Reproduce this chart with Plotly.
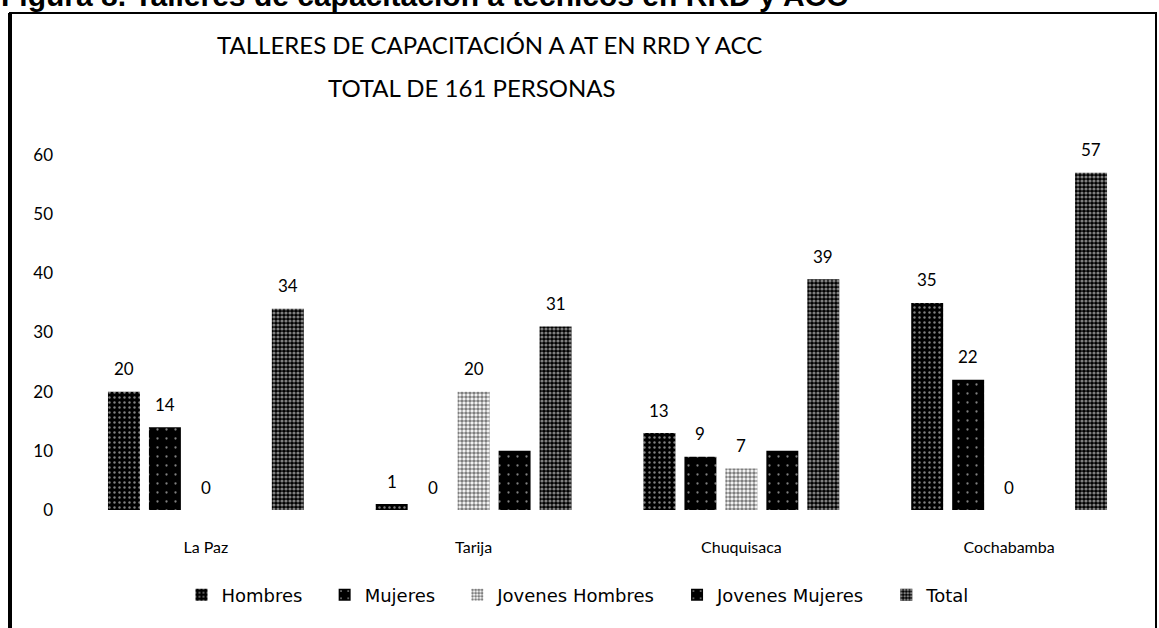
import plotly.graph_objects as go

# ---- data ----
categories = ["La Paz", "Tarija", "Chuquisaca", "Cochabamba"]
series_names = ["Hombres", "Mujeres", "Jovenes Hombres", "Jovenes Mujeres", "Total"]
hombres = [20, 1, 13, 35]
mujeres = [14, 0, 9, 22]
jovenes_hombres = [0, 20, 7, 0]
jovenes_mujeres = [None, 10, 10, None]
total = [34, 31, 39, 57]
series_values = [hombres, mujeres, jovenes_hombres, jovenes_mujeres, total]
show_labels = [True, True, True, False, True]
y_ticks = [0, 10, 20, 30, 40, 50, 60]
title_line1 = "TALLERES DE CAPACITACIÓN A AT EN RRD Y ACC"
title_line2 = "TOTAL DE 161 PERSONAS"
caption = "Figura 8. Talleres de capacitación a técnicos en RRD y ACC"

# ---- styles ----
W, H = 1159, 628
PLOT_L, PLOT_R, PLOT_T, PLOT_B = 72, 1143, 155, 510
ML, MR = PLOT_L, W - PLOT_R
MT, MB = PLOT_T, H - PLOT_B
PW = PLOT_R - PLOT_L
PH = PLOT_B - PLOT_T
BARGAP = 0.235
BARGROUPGAP = 0.22
FONT = "Lato, 'Liberation Sans', Arial, sans-serif"
TITLE_FONT = "Lato, sans-serif"
LEGEND_FONT = "'DejaVu Sans', Verdana, sans-serif"
LEGEND_PAD = "\u00a0" * 3

patterns = [
    dict(shape=".", bgcolor="#000000", fgcolor="#ffffff", size=5, solidity=0.18),
    dict(shape=".", bgcolor="#000000", fgcolor="#ffffff", size=9, solidity=0.05),
    dict(shape=".", bgcolor="#ffffff", fgcolor="#000000", size=4, solidity=0.62),
    dict(shape=".", bgcolor="#000000", fgcolor="#ffffff", size=9, solidity=0.05),
    dict(shape=".", bgcolor="#000000", fgcolor="#ffffff", size=4, solidity=0.5),
]

fig = go.Figure()
for k, (name, vals, pat) in enumerate(zip(series_names, series_values, patterns)):
    fig.add_trace(go.Bar(
        x=categories, y=vals,
        name=name + (LEGEND_PAD if k < len(series_names) - 1 else ""),
        marker=dict(color=pat["bgcolor"], line=dict(width=0), pattern=pat),
    ))

# data labels as annotations above each bar
n = len(series_names)
slot = PW / len(categories) * (1 - BARGAP) / n
annotations = []
for i, (vals, show) in enumerate(zip(series_values, show_labels)):
    if not show:
        continue
    for cat, v in zip(categories, vals):
        if v is None:
            continue
        annotations.append(dict(
            x=cat, y=v, xref="x", yref="y", text=str(v), showarrow=False,
            xshift=(i - (n - 1) / 2) * slot, yshift=23, yanchor="middle",
            font=dict(family=FONT, size=17, color="#000"),
        ))

def py(pixel_y):
    return (PLOT_B - pixel_y) / PH

def px(pixel_x):
    return (pixel_x - PLOT_L) / PW

annotations += [
    dict(text=title_line1, x=px(489), y=py(45), xref="paper", yref="paper",
         showarrow=False, xanchor="center", yanchor="middle",
         font=dict(family=TITLE_FONT, size=24, color="#000")),
    dict(text=title_line2, x=px(472), y=py(87), xref="paper", yref="paper",
         showarrow=False, xanchor="center", yanchor="middle",
         font=dict(family=TITLE_FONT, size=24, color="#000")),
    dict(text="<b>" + caption + "</b>", x=px(-1), y=py(14), xref="paper", yref="paper",
         showarrow=False, xanchor="left", yanchor="bottom",
         font=dict(family="Arial, 'Liberation Sans', sans-serif", size=30, color="#000")),
]

shapes = [
    dict(type="rect", xref="paper", yref="paper",
         x0=px(10), x1=px(1156), y0=py(660), y1=py(13),
         line=dict(color="#000", width=2)),
    dict(type="line", xref="paper", yref="paper",
         x0=px(10), x1=px(10), y0=py(660), y1=py(13),
         line=dict(color="#000", width=4)),
]

fig.update_layout(
    width=W, height=H,
    margin=dict(l=ML, r=MR, t=MT, b=MB, autoexpand=False),
    paper_bgcolor="#ffffff", plot_bgcolor="#ffffff",
    barmode="group", bargap=BARGAP, bargroupgap=BARGROUPGAP,
    font=dict(family=FONT, size=16, color="#000"),
    showlegend=True,
    legend=dict(orientation="h", x=px(578), xanchor="center", y=py(595), yanchor="middle",
                font=dict(family=LEGEND_FONT, size=18, color="#000"),
                itemwidth=30, traceorder="normal"),
    annotations=annotations,
    shapes=shapes,
    xaxis=dict(showgrid=False, showline=False, zeroline=False, automargin=False,
               ticks="", ticklabelstandoff=26,
               tickfont=dict(family=FONT, size=16, color="#000")),
    yaxis=dict(range=[0, 60], tickvals=y_ticks, showgrid=False, showline=False,
               zeroline=False, ticks="", ticklabelstandoff=18, automargin=False,
               tickfont=dict(family=FONT, size=17, color="#000")),
)

fig.write_html("out.html", config={"displayModeBar": False},
               post_script="document.body.style.margin='0';document.body.style.overflow='hidden';")
